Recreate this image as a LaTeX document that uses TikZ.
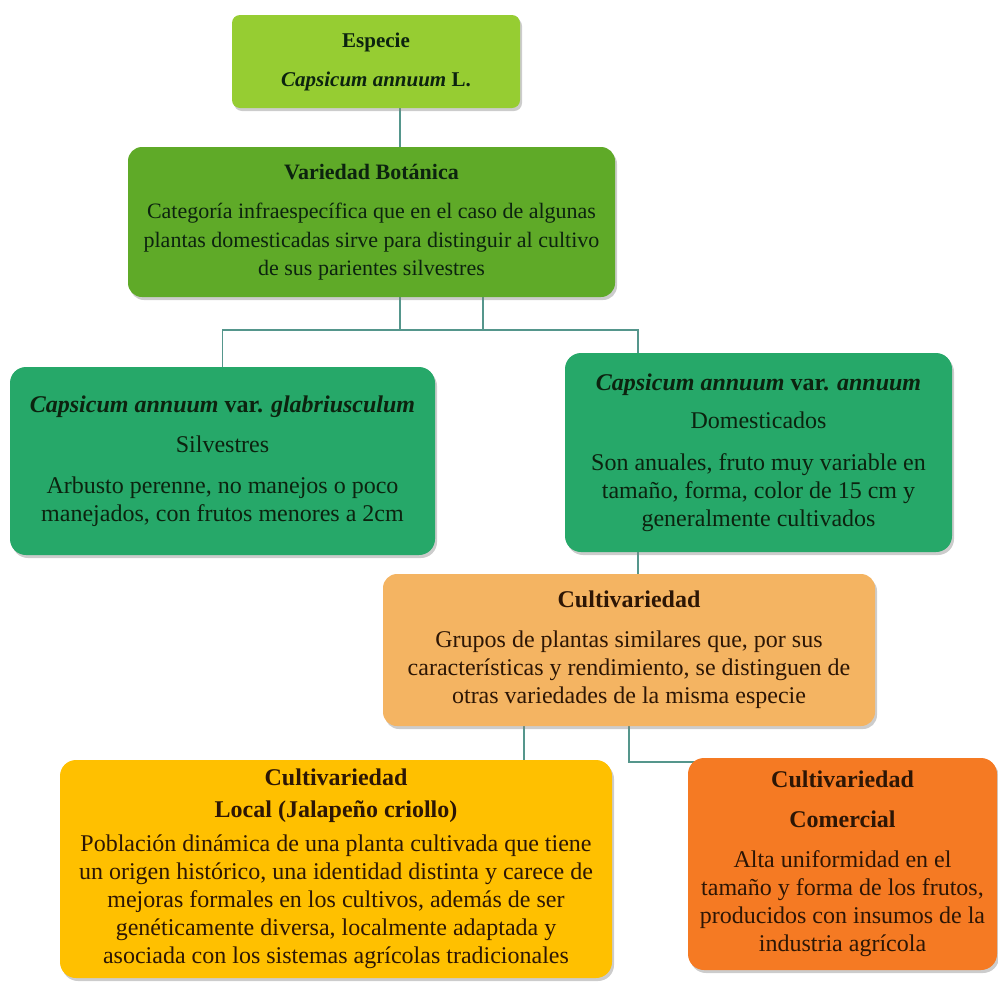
\documentclass[tikz,border=0pt]{standalone}
\usepackage{fontspec}
\setmainfont{Liberation Serif}
\usepackage{tikz}
\usetikzlibrary{shadows,backgrounds}

\definecolor{especie}{RGB}{150,205,50}
\definecolor{botanica}{RGB}{95,170,40}
\definecolor{silvestre}{RGB}{38,168,105}
\definecolor{cultivar}{RGB}{244,180,98}
\definecolor{local}{RGB}{255,192,0}
\definecolor{comercial}{RGB}{245,122,35}
\definecolor{linea}{RGB}{85,150,140}
\definecolor{txtverde}{RGB}{12,35,15}
\definecolor{txtcafe}{RGB}{45,22,5}

\begin{document}
\begin{tikzpicture}[x=1pt,y=-1pt,
    caja/.style={rounded corners=16pt,align=center,inner sep=0pt,
      drop shadow={opacity=0.4,shadow xshift=2pt,shadow yshift=-3pt},
      font=\fontsize{24}{28}\selectfont},
    conn/.style={draw=linea,line width=1.6pt}]

    \useasboundingbox (0,0) rectangle (998,983);

    % especie y variedad botanica
    \node[caja,fill=especie,text=txtverde,rounded corners=8pt,minimum width=288pt,minimum height=93pt,
      font=\fontsize{21}{25}\selectfont] (espe) at (376,61.5)
      {\textbf{Especie}\\[14pt]\textbf{\textit{Capsicum annuum} L.}};
    \node[caja,fill=botanica,text=txtverde,rounded corners=14pt,minimum width=487pt,minimum height=150pt,
      font=\fontsize{22}{28.5}\selectfont] (vari) at (371.5,222)
      {\textbf{Variedad Botánica}\\[11pt]Categoría infraespecífica que en el caso de algunas\\
       plantas domesticadas sirve para distinguir al cultivo\\de sus parientes silvestres};

    % variedades
    \node[caja,fill=silvestre,text=txtverde,minimum width=425pt,minimum height=188pt] (silv) at (222.5,461)
      {\textbf{\textit{Capsicum annuum} var. \textit{glabriusculum}}\\[12pt]Silvestres\\[13pt]
       Arbusto perenne, no manejos o poco\\manejados, con frutos menores a 2cm};
    \node[caja,fill=silvestre,text=txtverde,minimum width=387pt,minimum height=199pt] (dome) at (758.5,452.5)
      {\textbf{\textit{Capsicum annuum} var. \textit{annuum}}\\[10pt]Domesticados\\[14pt]
       Son anuales, fruto muy variable en\\tamaño, forma, color de 15 cm y\\generalmente cultivados};

    % cultivariedades
    \node[caja,fill=cultivar,text=txtcafe,rounded corners=14pt,minimum width=492pt,minimum height=152pt] (cult) at (629,650)
      {\textbf{Cultivariedad}\\[12pt]Grupos de plantas similares que, por sus\\
       características y rendimiento, se distinguen de\\otras variedades de la misma especie};
    \node[caja,fill=local,text=txtcafe,minimum width=552pt,minimum height=218pt] (loca) at (336,869)
      {\textbf{Cultivariedad}\\[4pt]\textbf{Local (Jalapeño criollo)}\\[6pt]
       Población dinámica de una planta cultivada que tiene\\
       un origen histórico, una identidad distinta y carece de\\
       mejoras formales en los cultivos, además de ser\\
       genéticamente diversa, localmente adaptada y\\
       asociada con los sistemas agrícolas tradicionales};
    \node[caja,fill=comercial,text=txtcafe,minimum width=309pt,minimum height=212pt] (come) at (842.5,864)
      {\textbf{Cultivariedad}\\[12pt]\textbf{Comercial}\\[12pt]Alta uniformidad en el\\
       tamaño y forma de los frutos,\\producidos con insumos de la\\industria agrícola};

    \coordinate (busA) at (0,330);

    \begin{scope}[on background layer]
    \draw[conn] (espe.south -| 400,0) -- (vari.north -| 400,0);
    \draw[conn] (vari.south -| 483,0) |- (busA -| silv.north) -- (silv.north);
    \draw[conn] (vari.south -| 400,0) |- (busA -| 638,0) -- (dome.north -| 638,0);
    \draw[conn] (dome.south -| 638,0) -- (cult.north -| 638,0);
    \draw[conn] (cult.south -| 524,0) -- (loca.north -| 524,0);
    \draw[conn] (cult.south) |- ([xshift=20pt,yshift=-4pt]come.north west);
    \end{scope}

\end{tikzpicture}
\end{document}
